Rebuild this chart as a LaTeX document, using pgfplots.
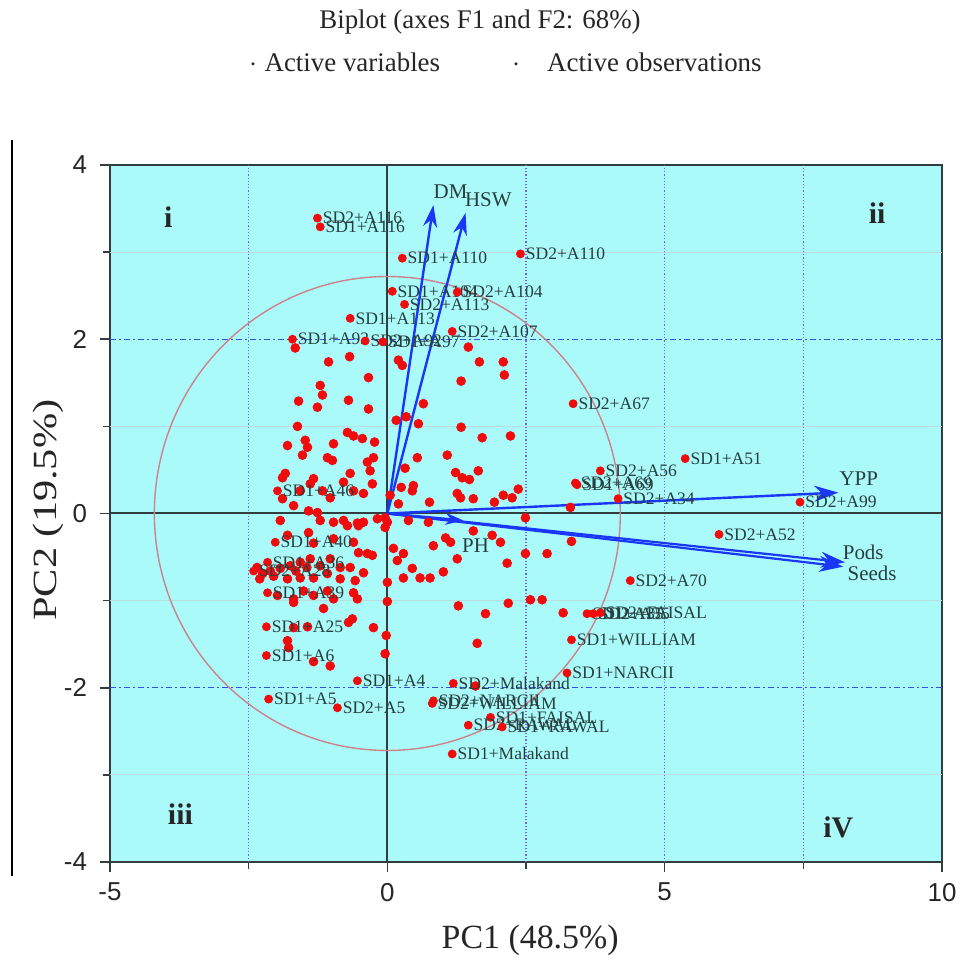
\documentclass[border=0pt]{standalone}
\usepackage{fontspec}
\setmainfont{Liberation Serif}
\setsansfont{Liberation Sans}
\usepackage{graphicx}
\usepackage{pgfplots}
\pgfplotsset{compat=1.18}
\usetikzlibrary{arrows.meta}
\definecolor{bgcyan}{RGB}{170,250,250}
\definecolor{frame}{RGB}{50,62,62}
\definecolor{lbl}{RGB}{40,62,62}
\definecolor{circ}{RGB}{205,130,140}
\definecolor{arr}{RGB}{25,55,245}
\definecolor{grdv}{RGB}{120,100,225}
\definecolor{grdh}{RGB}{50,80,230}
\definecolor{faint}{RGB}{185,222,222}
\definecolor{dotred}{RGB}{240,12,12}

\pgfplotstableread{
x y
-1.66 1.90
-1.06 1.74
-0.68 1.80
-0.34 1.56
-1.21 1.47
-1.17 1.36
-1.60 1.29
-0.70 1.30
-1.26 1.22
-0.34 1.20
0.16 1.07
-1.62 1.00
-0.72 0.93
-0.61 0.89
-0.45 0.86
-1.48 0.84
-1.44 0.76
-1.80 0.78
-0.97 0.80
-0.23 0.82
-1.53 0.67
-1.08 0.64
-0.99 0.61
-0.25 0.64
-0.36 0.59
-0.31 0.49
-1.84 0.46
-1.89 0.41
-1.33 0.40
-1.39 0.34
-0.67 0.46
-0.79 0.36
-0.27 0.34
-1.89 0.17
-1.57 0.26
-1.17 0.26
-1.03 0.18
-0.61 0.26
-0.43 0.23
-1.69 0.09
-1.42 0.03
-1.26 0.01
0.05 0.21
-1.93 -0.08
-1.21 -0.08
-0.97 -0.10
-0.79 -0.08
-0.54 -0.11
-0.43 -0.10
-0.18 -0.06
0.00 -0.10
1.46 1.91
0.20 1.76
0.27 1.70
1.66 1.74
2.09 1.74
2.11 1.59
1.33 1.52
0.65 1.26
0.34 1.11
0.56 1.03
1.33 0.99
1.71 0.87
2.22 0.89
0.54 0.64
1.08 0.67
1.64 0.49
1.23 0.47
1.35 0.41
1.48 0.39
0.32 0.52
0.47 0.32
0.45 0.26
0.25 0.30
0.76 0.13
1.26 0.23
1.32 0.18
1.55 0.17
1.93 0.13
2.09 0.21
2.25 0.18
2.36 0.28
0.20 0.11
3.30 0.07
-0.04 -0.05
0.38 -0.08
0.74 -0.10
2.49 -0.05
-0.04 -0.16
1.55 -0.20
1.89 -0.25
2.04 -0.33
1.05 -0.28
1.14 -0.33
0.83 -0.37
0.11 -0.40
0.29 -0.46
0.18 -0.54
1.26 -0.52
2.49 -0.46
2.88 -0.46
3.32 -0.32
2.16 -0.57
0.45 -0.63
1.01 -0.67
0.29 -0.74
0.59 -0.74
0.77 -0.74
0.00 -0.79
0.00 -1.01
1.28 -1.06
1.77 -1.15
2.18 -1.03
2.58 -0.99
2.79 -0.99
3.17 -1.14
-0.02 -1.40
1.62 -1.49
-0.04 -1.61
1.59 -1.98
-0.72 -0.14
-0.52 -0.14
-1.80 -0.25
-1.42 -0.22
-1.33 -0.34
-0.97 -0.29
-0.61 -0.33
-0.52 -0.45
-0.36 -0.46
-0.27 -0.48
-2.11 -0.66
-1.93 -0.63
-1.75 -0.60
-1.57 -0.56
-1.39 -0.52
-1.21 -0.60
-1.03 -0.52
-0.85 -0.62
-0.67 -0.62
-0.43 -0.68
-2.25 -0.69
-1.80 -0.75
-1.57 -0.74
-1.33 -0.74
-1.08 -0.69
-0.85 -0.75
-0.58 -0.77
-1.98 -0.94
-1.69 -0.98
-1.51 -0.89
-1.33 -0.94
-1.08 -0.89
-0.97 -0.98
-0.61 -0.91
-0.54 -0.98
-1.69 -1.02
-1.15 -1.09
-1.69 -1.31
-1.44 -1.30
-0.63 -1.21
-0.70 -1.25
-0.25 -1.31
-1.80 -1.46
-1.78 -1.54
-1.33 -1.70
-1.03 -1.75
-2.35 -0.62
-2.05 -0.72
-1.65 -0.66
-1.45 -0.62
-2.30 -0.75
}\obsplain

\pgfplotstableread{
x y label
-1.26 3.39 SD2+A116
-1.21 3.29 SD1+A116
0.27 2.93 SD1+A110
2.40 2.98 SD2+A110
0.09 2.55 SD1+A104
1.26 2.54 SD2+A104
0.31 2.40 SD2+A113
-0.67 2.24 SD1+A113
1.17 2.09 SD2+A107
-1.71 2.00 SD1+A92
-0.40 1.98 SD2+A92
-0.08 1.97 SD1+A97
3.35 1.26 SD2+A67
5.37 0.63 SD1+A51
3.84 0.49 SD2+A56
3.39 0.35 SD2+A69
3.42 0.33 SD1+A69
4.16 0.17 SD2+A34
7.44 0.13 SD2+A99
5.98 -0.24 SD2+A52
4.38 -0.77 SD2+A70
3.60 -1.15 SD1+A35
3.71 -1.15 SD2+A35
3.84 -1.14 SD2+FAISAL
3.32 -1.45 SD1+WILLIAM
3.24 -1.83 SD1+NARCII
1.19 -1.95 SD2+Malakand
0.83 -2.15 SD2+NARCII
0.81 -2.18 SD2+WILLIAM
1.86 -2.34 SD1+FAISAL
1.46 -2.43 SD2+RAWAL
2.07 -2.45 SD1+RAWAL
1.17 -2.76 SD1+Malakand
-0.54 -1.92 SD1+A4
-2.14 -2.13 SD1+A5
-0.90 -2.23 SD2+A5
-2.18 -1.63 SD1+A6
-2.18 -1.30 SD1+A25
-2.02 -0.33 SD1+A40
-1.98 0.26 SD1+A46
-2.16 -0.56 SD1+A36
-2.41 -0.66 SD2+A28
-2.16 -0.91 SD1+A39
}\obslabeled

\begin{document}
\begin{tikzpicture}
\useasboundingbox (0,0) rectangle (481.5bp,480bp);
\begin{axis}[
  at={(55bp,49bp)}, anchor=south west,
  width=416bp, height=348.5bp, scale only axis,
  xmin=-5, xmax=10, ymin=-4, ymax=4,
  axis background/.style={fill=bgcyan},
  axis line style={frame, line width=1.1bp},
  xtick={-5,0,5,10}, minor xtick={-2.5,2.5,7.5},
  ytick={-4,-2,0,2,4}, minor ytick={-3,-1,1,3},
  tick align=outside, tick pos=left,
  major tick length=5bp, minor tick length=3.5bp,
  every tick/.style={frame, line width=0.8bp},
  /pgf/number format/assume math mode=true,
  ticklabel style={font=\fontsize{13}{13}\selectfont\sffamily, text=black!85},
  xticklabel style={yshift=-2bp},
  yticklabel style={xshift=-3bp},
  xlabel={PC1 (48.5\%)},
  ylabel={\scalebox{1.25}[1]{PC2 (19.5\%)}},
  xlabel style={at={(axis description cs:0.505,-0.112)}, anchor=center, font=\fontsize{17}{17}\selectfont, text=black!85},
  ylabel style={at={(axis description cs:-0.0745,0.505)}, anchor=center, font=\fontsize{17}{17}\selectfont, text=black!85},
  every node near coord/.append style={anchor=west, xshift=1.5bp, font=\fontsize{8.8}{9}\selectfont, text=lbl, inner sep=1bp},
]
% faint grid
\draw[faint, line width=0.5bp] (axis cs:-5,3) -- (axis cs:10,3);
\draw[faint, line width=0.5bp] (axis cs:-5,1) -- (axis cs:10,1);
\draw[faint, line width=0.5bp] (axis cs:-5,-1) -- (axis cs:10,-1);
\draw[faint, line width=0.5bp] (axis cs:-5,-3) -- (axis cs:10,-3);
% dotted vertical
\draw[grdv, line width=0.6bp, densely dotted] (axis cs:-2.5,-4) -- (axis cs:-2.5,4);
\draw[grdv, line width=0.6bp, densely dotted] (axis cs:2.5,-4) -- (axis cs:2.5,4);
\draw[grdv, line width=0.6bp, densely dotted] (axis cs:5,-4) -- (axis cs:5,4);
\draw[grdv, line width=0.6bp, densely dotted] (axis cs:7.5,-4) -- (axis cs:7.5,4);
% dash-dot horizontal
\draw[grdh, line width=0.6bp, dash pattern=on 3bp off 1.5bp on 1bp off 1.5bp] (axis cs:-5,2) -- (axis cs:10,2);
\draw[grdh, line width=0.6bp, dash pattern=on 3bp off 1.5bp on 1bp off 1.5bp] (axis cs:-5,-2) -- (axis cs:10,-2);
% zero lines
\draw[frame, line width=1bp] (axis cs:0,-4) -- (axis cs:0,4);
\draw[frame, line width=1bp] (axis cs:-5,0) -- (axis cs:10,0);
% correlation circle
\draw[circ, line width=0.7bp] (axis cs:0,0) ellipse [x radius=4.2, y radius=2.72];
% observations
\addplot[only marks, mark=*, mark size=2.2bp, mark options={draw=dotred, fill=dotred}] table {\obsplain};
\addplot[only marks, mark=*, mark size=2.0bp, mark options={draw=dotred, fill=dotred},
  nodes near coords, point meta=explicit symbolic] table[meta=label] {\obslabeled};
% variables
\addplot[arr, line width=1.2bp, -{Stealth[length=11bp,width=7bp]}] coordinates {(0,0) (0.83,3.54)};
\addplot[arr, line width=1.2bp, -{Stealth[length=11bp,width=7bp]}] coordinates {(0,0) (1.41,3.45)};
\addplot[arr, line width=1.2bp, -{Stealth[length=12bp,width=8bp]}] coordinates {(0,0) (8.13,0.24)};
\addplot[arr, line width=1.1bp, -{Stealth[length=12bp,width=8bp]}] coordinates {(0,0) (8.25,-0.56)};
\addplot[arr, line width=1.1bp, -{Stealth[length=12bp,width=8bp]}] coordinates {(0,0) (8.22,-0.61)};
\addplot[arr, line width=1.2bp, -{Stealth[length=9bp,width=6bp]}] coordinates {(0,0) (1.37,-0.08)};
\node[text=lbl, font=\fontsize{10.5}{11}\selectfont] at (axis cs:1.14,3.69) {DM};
\node[text=lbl, font=\fontsize{10.5}{11}\selectfont] at (axis cs:1.82,3.60) {HSW};
\node[text=lbl, font=\fontsize{10.5}{11}\selectfont] at (axis cs:8.50,0.40) {YPP};
\node[text=lbl, font=\fontsize{10.5}{11}\selectfont] at (axis cs:8.58,-0.45) {Pods};
\node[text=lbl, font=\fontsize{10.5}{11}\selectfont] at (axis cs:8.74,-0.69) {Seeds};
\node[text=lbl, font=\fontsize{10.5}{11}\selectfont] at (axis cs:1.59,-0.37) {PH};
% quadrant labels
\node[text=black!85, font=\fontsize{15}{15}\selectfont\bfseries] at (axis cs:-3.95,3.40) {i};
\node[text=black!85, font=\fontsize{15}{15}\selectfont\bfseries] at (axis cs:8.83,3.45) {ii};
\node[text=black!85, font=\fontsize{15}{15}\selectfont\bfseries] at (axis cs:-3.73,-3.45) {iii};
\node[text=black!85, font=\fontsize{15}{15}\selectfont\bfseries] at (axis cs:8.13,-3.60) {iV};
\end{axis}
% title and legend
\node[font=\fontsize{13.5}{14}\selectfont, text=black!85] at (240bp,469bp) {Biplot (axes F1 and F2: 68\%)};
\node[font=\fontsize{13.5}{14}\selectfont, text=black!85] at (172.5bp,449bp) {$\cdot$ Active variables};
\node[font=\fontsize{13.5}{14}\selectfont, text=black!85] at (318.5bp,449bp) {$\cdot$\quad Active observations};
% left rule
\draw[black, line width=1.2bp] (6bp,410bp) -- (6bp,42bp);
\end{tikzpicture}
\end{document}
